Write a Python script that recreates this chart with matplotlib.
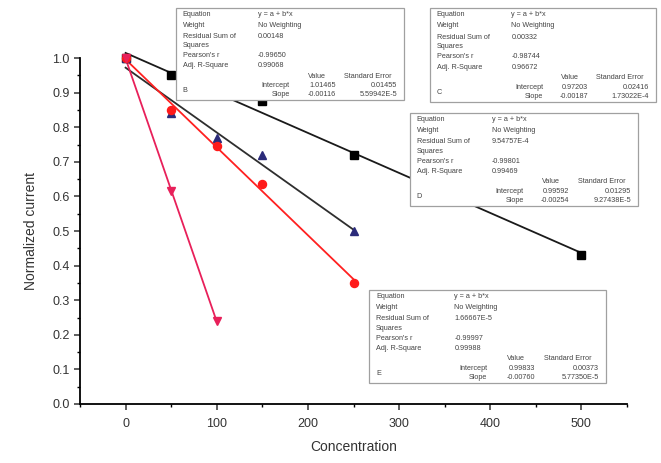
import numpy as np
import matplotlib
matplotlib.use("Agg")
import matplotlib.pyplot as plt
from matplotlib.patches import Rectangle
from matplotlib.ticker import MultipleLocator

plt.rcParams['font.family'] = ['Liberation Sans', 'DejaVu Sans']

# Measured normalized current versus concentration, four sensor series
conc_b = [0, 50, 150, 250, 500]
curr_b = [1.00, 0.95, 0.875, 0.72, 0.43]
conc_c = [0, 50, 100, 150, 250]
curr_c = [1.00, 0.84, 0.77, 0.72, 0.50]
conc_d = [0, 50, 100, 150, 250]
curr_d = [1.00, 0.85, 0.746, 0.636, 0.35]
conc_e = [0, 50, 100]
curr_e = [1.00, 0.615, 0.24]
series_letters = ['B', 'C', 'D', 'E']

W, H = 661, 463
fig = plt.figure(figsize=(W / 100, H / 100), dpi=100)
ax = fig.add_axes([80 / W, 1 - 404 / H, (627 - 80) / W, (404 - 58) / H])


def linear_fit(x, y):
    x = np.asarray(x, float)
    y = np.asarray(y, float)
    n = len(x)
    slope, intercept = np.polyfit(x, y, 1)
    resid = y - (intercept + slope * x)
    rss = float(np.sum(resid ** 2))
    sxx = np.sum((x - x.mean()) ** 2)
    dof = max(n - 2, 1)
    s2 = rss / dof
    se_slope = np.sqrt(s2 / sxx)
    se_int = np.sqrt(s2 * (1 / n + x.mean() ** 2 / sxx))
    r = np.corrcoef(x, y)[0, 1]
    r2 = r ** 2
    adj = 1 - (1 - r2) * (n - 1) / dof
    return dict(a=intercept, b=slope, sa=se_int, sb=se_slope, rss=rss, r=r, adj=adj)


series = [
    (conc_b, curr_b, 's', 'black', 'black', '#1a1a1a'),
    (conc_c, curr_c, '^', '#2b2b7a', '#2b2b7a', '#2e2e2e'),
    (conc_d, curr_d, 'o', '#ff1a1a', '#ff1a1a', '#ff2020'),
    (conc_e, curr_e, 'v', '#e8205a', '#e8205a', '#e8205a'),
]

fits = []
for x, y, mk, fc, ec, lc in series:
    f = linear_fit(x, y)
    fits.append(f)
    xs = np.array([min(x), max(x)], float)
    ax.plot(xs, f['a'] + f['b'] * xs, color=lc, lw=1.3, zorder=3, clip_on=False)
for x, y, mk, fc, ec, lc in series:
    ax.plot(x, y, linestyle='none', marker=mk, ms=5.8, mfc=fc, mec=ec,
            zorder=4, clip_on=False)

ax.set_xlim(-50, 550)
ax.set_ylim(0, 1.0)
ax.xaxis.set_major_locator(MultipleLocator(100))
ax.xaxis.set_minor_locator(MultipleLocator(50))
ax.yaxis.set_major_locator(MultipleLocator(0.1))
ax.yaxis.set_minor_locator(MultipleLocator(0.05))
ax.yaxis.set_major_formatter(plt.FuncFormatter(lambda v, p: f"{v:.1f}"))
for s in ('top', 'right'):
    ax.spines[s].set_visible(False)
for s in ('left', 'bottom'):
    ax.spines[s].set_linewidth(1.3)
ax.tick_params(axis='both', which='major', direction='out', length=4, width=1.1,
               labelsize=9, colors='#333333')
ax.tick_params(axis='x', which='major', pad=6)
ax.tick_params(axis='both', which='minor', direction='out', length=2.5, width=1.0)
ax.set_xlabel('Concentration', fontsize=10, color='#333333', labelpad=7)
ax.set_ylabel('Normalized current', fontsize=10, color='#333333', labelpad=10)


def fmt(v):
    if v != 0 and abs(v) < 1e-3:
        return f"{v:.5E}".replace("E-0", "E-")
    return f"{v:.5f}"


def fit_table(box, letter, f):
    x0, y0, x1, y1 = box
    w, h = x1 - x0, y1 - y0

    def fx(u):
        return (x0 + u * w) / W

    def fy(v):
        return 1 - (y0 + v * h) / H

    fig.add_artist(Rectangle((fx(0), fy(1)), w / W, h / H, transform=fig.transFigure,
                             facecolor='white', edgecolor='#a0a0a0', lw=0.9, zorder=5))
    kw = dict(fontsize=5.2, color='#444444', zorder=6, va='center')
    rows = [
        (0.07, 'Equation', 'y = a + b*x'),
        (0.19, 'Weight', 'No Weighting'),
        (0.31, 'Residual Sum of', fmt(f['rss'])),
        (0.41, 'Squares', ''),
        (0.52, "Pearson's r", fmt(f['r'])),
        (0.63, 'Adj. R-Square', fmt(f['adj'])),
    ]
    for v, lab, val in rows:
        fig.text(fx(0.03), fy(v), lab, ha='left', **kw)
        fig.text(fx(0.36), fy(v), val, ha='left', **kw)
    fig.text(fx(0.62), fy(0.74), 'Value', ha='center', **kw)
    fig.text(fx(0.84), fy(0.74), 'Standard Error', ha='center', **kw)
    fig.text(fx(0.03), fy(0.90), letter, ha='left', **kw)
    fig.text(fx(0.50), fy(0.845), 'Intercept', ha='right', **kw)
    fig.text(fx(0.50), fy(0.945), 'Slope', ha='right', **kw)
    fig.text(fx(0.70), fy(0.845), fmt(f['a']), ha='right', **kw)
    fig.text(fx(0.70), fy(0.945), fmt(f['b']), ha='right', **kw)
    fig.text(fx(0.97), fy(0.845), fmt(f['sa']), ha='right', **kw)
    fig.text(fx(0.97), fy(0.945), fmt(f['sb']), ha='right', **kw)


boxes = [(176, 8, 404, 100), (430, 8, 656, 102), (410, 113, 638, 206), (369, 290, 606, 383)]
for box, letter, f in zip(boxes, series_letters, fits):
    fit_table(box, letter, f)

fig.savefig('out.png', dpi=100, facecolor='white')
